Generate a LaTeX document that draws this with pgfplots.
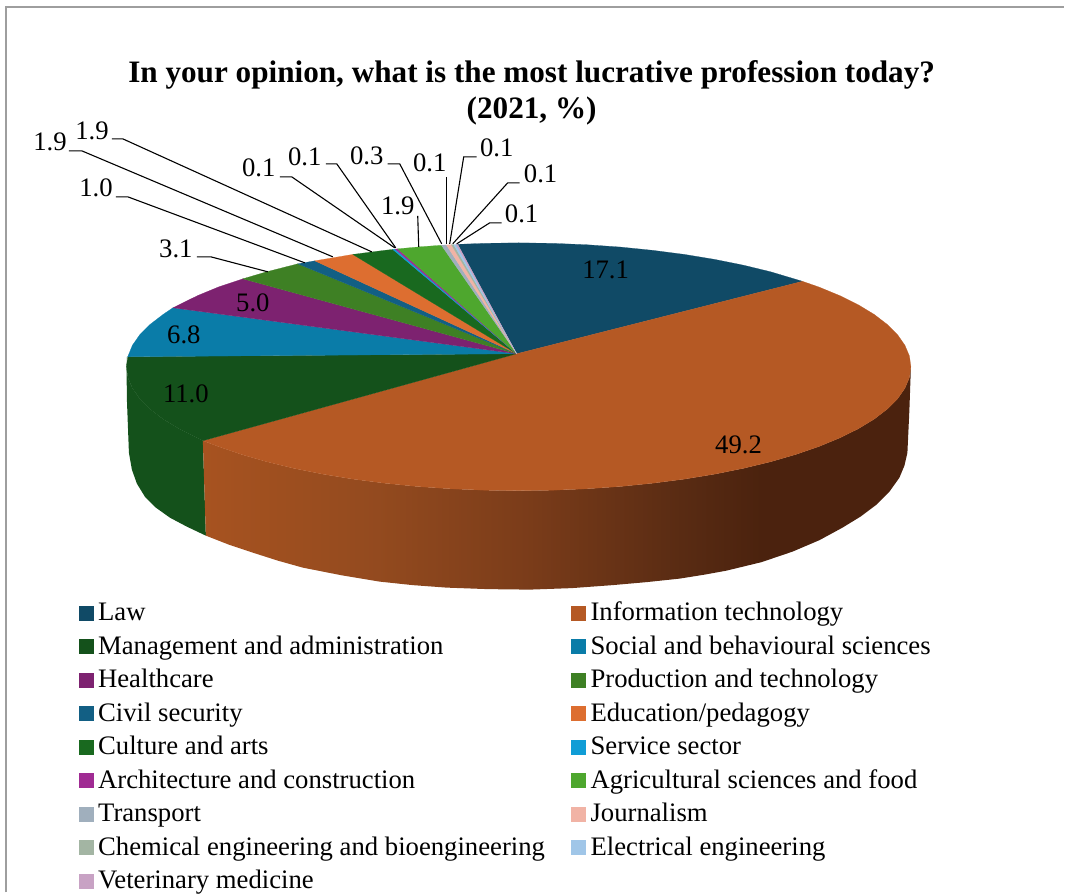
\documentclass[border=0pt]{standalone}
\usepackage{fontspec}
\setmainfont{Liberation Serif}
\usepackage{pgfplots}
\pgfplotsset{compat=1.18}

% slice colours, legend order
\definecolor{cLaw}{HTML}{104A66}
\definecolor{cIT}{HTML}{B55924}
\definecolor{cMgmt}{HTML}{14511B}
\definecolor{cSocial}{HTML}{0A7CA8}
\definecolor{cHealth}{HTML}{7D2270}
\definecolor{cProd}{HTML}{3E8024}
\definecolor{cCivil}{HTML}{125F84}
\definecolor{cEdu}{HTML}{DD6E30}
\definecolor{cCult}{HTML}{19691F}
\definecolor{cServ}{HTML}{109DD6}
\definecolor{cArch}{HTML}{A02B93}
\definecolor{cAgri}{HTML}{4EA72E}
\definecolor{cTrans}{HTML}{A0AFBD}
\definecolor{cJour}{HTML}{F1B3A5}
\definecolor{cChem}{HTML}{A3B5A3}
\definecolor{cElec}{HTML}{A0C6E8}
\definecolor{cVet}{HTML}{C8A2C4}

% front wall of the IT slice gets darker to the right
\pgfdeclarehorizontalshading{itside}{100bp}{
  rgb(0bp)=(0.655,0.325,0.125);
  rgb(25bp)=(0.655,0.325,0.125);
  rgb(37.5bp)=(0.575,0.29,0.12);
  rgb(48bp)=(0.48,0.235,0.10);
  rgb(58.7bp)=(0.35,0.17,0.075);
  rgb(64.3bp)=(0.295,0.135,0.055);
  rgb(100bp)=(0.295,0.135,0.055)}

\newcommand{\lab}[3]{\node[font=\fontsize{26.7bp}{30bp}\selectfont, inner sep=0pt] at (axis cs:#1,#2) {#3};}

\begin{document}
\begin{tikzpicture}
\begin{axis}[
    scale only axis,
    width=1065bp, height=893bp,
    xmin=0, xmax=1065, ymin=0, ymax=893,
    y dir=reverse,
    hide axis,
    clip=false,
    legend columns=2,
    legend cell align=left,
    legend image code/.code={\path[#1, overlay] (0bp,-8bp) rectangle (14bp,6bp); \path (0bp,0bp) rectangle (14bp,1bp);},
    legend style={
        at={(axis cs:79,600)}, anchor=north west,
        draw=none, fill=none, inner sep=0pt, outer sep=0pt,
        font=\fontsize{26.7bp}{30bp}\selectfont,
        row sep=9.55bp,
        nodes={inner sep=0pt, text height=21bp, text depth=3bp},
        /tikz/column 1/.style={column sep=5bp},
        /tikz/column 2/.style={column sep=26.5bp},
        /tikz/column 3/.style={column sep=5bp},
    },
]

% page extent and the grey frame
\addplot[draw=none, forget plot] coordinates {(0,0) (1065,893)};
\addplot[draw=black!38, line width=1.4bp, forget plot] coordinates {(6,893) (6,7) (1065,7)};

% side walls
\addplot[fill=cMgmt, draw=none, forget plot] coordinates {
    (126.5,357) (126.5,367) (128,377.8) (132.5,388.5) (139.9,399.1) (150.2,409.4) (163.3,419.4) (179.1,429) (197.5,438.1) (203,441)
    (206,536) (187,527) (170,518) (156,508) (145,497) (137,484) (132,470) (129,453) (127,400) (126.5,357)};
\addplot[shading=itside, draw=none, forget plot] coordinates {
    (203,441) (218.3,446.7) (241.5,454.7) (266.7,462) (293.9,468.6) (322.7,474.4) (353.1,479.4) (384.8,483.5) (417.4,486.8) (450.9,489.1) (484.8,490.5)
    (519,491) (553.2,490.5) (587.1,489.1) (620.6,486.8) (653.2,483.5) (684.9,479.4) (715.3,474.4) (744.1,468.6) (771.3,462) (796.5,454.7) (819.7,446.7)
    (840.5,438.1) (858.9,429) (874.7,419.4) (887.8,409.4) (898.1,399.1) (905.5,388.5) (910,377.8) (911.5,367)
    (910,410) (908,453) (905,466) (900,478) (890,492) (877,505) (861,517) (843,528) (820,540.5) (793,552) (762,562.5) (727,571) (705,575) (680,579) (647,582.5) (613,585.5) (572,588.5) (530,590)
    (488,589.5) (447,588) (413,585.5) (380,582) (341,575.5) (303,568) (278,561) (253,553) (229,545) (206,536) (203,441)};

% top face, one polygon for each slice
\addplot[fill=cLaw, draw=cLaw, line width=0.2bp] coordinates {
    (517,354) (458,244.5) (484.8,243.5) (519,243) (553.2,243.5) (587.1,244.9) (620.6,247.2) (653.2,250.5) (684.9,254.6) (715.3,259.6) (744.1,265.4) (771.3,272) (803,281.5) (517,354)};
\addlegendentry{Law}
\addplot[fill=cIT, draw=cIT, line width=0.2bp] coordinates {
    (517,354) (803,281.5) (819.7,287.3) (840.5,295.9) (858.9,305) (874.7,314.6) (887.8,324.6) (898.1,334.9) (905.5,345.5) (910,356.2) (911.5,367)
    (910,377.8) (905.5,388.5) (898.1,399.1) (887.8,409.4) (874.7,419.4) (858.9,429) (840.5,438.1) (819.7,446.7) (796.5,454.7) (771.3,462) (744.1,468.6) (715.3,474.4)
    (684.9,479.4) (653.2,483.5) (620.6,486.8) (587.1,489.1) (553.2,490.5) (519,491) (484.8,490.5) (450.9,489.1) (417.4,486.8) (384.8,483.5) (353.1,479.4) (322.7,474.4)
    (293.9,468.6) (266.7,462) (241.5,454.7) (218.3,446.7) (203,441) (517,354)};
\addlegendentry{Information technology}
\addplot[fill=cMgmt, draw=cMgmt, line width=0.2bp] coordinates {
    (517,354) (203,441) (197.5,438.1) (179.1,429) (163.3,419.4) (150.2,409.4) (139.9,399.1) (132.5,388.5) (128,377.8) (126.5,367) (127.8,357) (517,354)};
\addlegendentry{Management and administration}
\addplot[fill=cSocial, draw=cSocial, line width=0.2bp] coordinates {
    (517,354) (127.8,357) (132.5,345.5) (139.9,334.9) (150.2,324.6) (163.3,314.6) (173,308) (517,354)};
\addlegendentry{Social and behavioural sciences}
\addplot[fill=cHealth, draw=cHealth, line width=0.2bp] coordinates {
    (517,354) (173,308) (197.5,295.9) (218.3,287.3) (243,279) (517,354)};
\addlegendentry{Healthcare}
\addplot[fill=cProd, draw=cProd, line width=0.2bp] coordinates {
    (517,354) (243,279) (266.7,272) (298,264) (517,354)};
\addlegendentry{Production and technology}
\addplot[fill=cCivil, draw=cCivil, line width=0.2bp] coordinates {
    (517,354) (298,264) (315,261) (517,354)};
\addlegendentry{Civil security}
\addplot[fill=cEdu, draw=cEdu, line width=0.2bp] coordinates {
    (517,354) (315,261) (353,254.6) (517,354)};
\addlegendentry{Education/pedagogy}
\addplot[fill=cCult, draw=cCult, line width=0.2bp] coordinates {
    (517,354) (353,254.6) (384.8,250.5) (393,249.6) (517,354)};
\addlegendentry{Culture and arts}
\addplot[fill=cServ, draw=cServ, line width=0.2bp] coordinates {
    (517,354) (393,249.6) (395.5,249.3) (517,354)};
\addlegendentry{Service sector}
\addplot[fill=cArch, draw=cArch, line width=0.2bp] coordinates {
    (517,354) (395.5,249.3) (398,249) (517,354)};
\addlegendentry{Architecture and construction}
\addplot[fill=cAgri, draw=cAgri, line width=0.2bp] coordinates {
    (517,354) (398,249) (420,247) (441.7,245.4) (517,354)};
\addlegendentry{Agricultural sciences and food}
\addplot[fill=cTrans, draw=cTrans, line width=0.2bp] coordinates {
    (517,354) (441.7,245.4) (446.7,245.1) (517,354)};
\addlegendentry{Transport}
\addplot[fill=cJour, draw=cJour, line width=0.2bp] coordinates {
    (517,354) (446.7,245.1) (451.7,244.9) (517,354)};
\addlegendentry{Journalism}
\addplot[fill=cChem, draw=cChem, line width=0.2bp] coordinates {
    (517,354) (451.7,244.9) (454,244.8) (517,354)};
\addlegendentry{Chemical engineering and bioengineering}
\addplot[fill=cElec, draw=cElec, line width=0.2bp] coordinates {
    (517,354) (454,244.8) (456.5,244.6) (517,354)};
\addlegendentry{Electrical engineering}
\addplot[fill=cVet, draw=cVet, line width=0.2bp] coordinates {
    (517,354) (456.5,244.6) (458,244.5) (517,354)};
\addlegendentry{Veterinary medicine}

% leader lines
\pgfplotsset{every axis plot/.append style={forget plot}}
\addplot[black, line width=1.1bp] coordinates {(112,139) (123,139) (372,252)};
\addplot[black, line width=1.1bp] coordinates {(69,151) (82,151) (333,257)};
\addplot[black, line width=1.1bp] coordinates {(116,197) (128,197) (305,263)};
\addplot[black, line width=1.1bp] coordinates {(197,257) (211,257) (268,272)};
\addplot[black, line width=1.1bp] coordinates {(280,177) (292,177) (395,248)};
\addplot[black, line width=1.1bp] coordinates {(326,164) (337,164) (396,248)};
\addplot[black, line width=1.1bp] coordinates {(388,164) (400,164) (442,244)};
\addplot[black, line width=1.1bp] coordinates {(418,216) (419,247)};
\addplot[black, line width=1.1bp] coordinates {(447,177) (447,244)};
\addplot[black, line width=1.1bp] coordinates {(477,157) (464,157) (450,244)};
\addplot[black, line width=1.1bp] coordinates {(520,183) (508,183) (453,244)};
\addplot[black, line width=1.1bp] coordinates {(502,223) (490,223) (457,244)};

% value labels
\lab{606}{270}{17.1}
\lab{739}{445}{49.2}
\lab{186}{394}{11.0}
\lab{184}{335}{6.8}
\lab{253}{303}{5.0}
\lab{176}{249.5}{3.1}
\lab{96}{188}{1.0}
\lab{50}{142}{1.9}
\lab{92}{131}{1.9}
\lab{259}{168}{0.1}
\lab{305}{157}{0.1}
\lab{367}{156}{0.3}
\lab{398}{206}{1.9}
\lab{430}{163}{0.1}
\lab{497}{148}{0.1}
\lab{541}{174}{0.1}
\lab{522}{214}{0.1}

% title
\node[font=\fontsize{31.2bp}{36bp}\selectfont\bfseries, align=center, inner sep=0pt] at (axis cs:532,93)
    {In your opinion, what is the most lucrative profession today?\\(2021, \%)};

\end{axis}
\end{tikzpicture}
\end{document}
